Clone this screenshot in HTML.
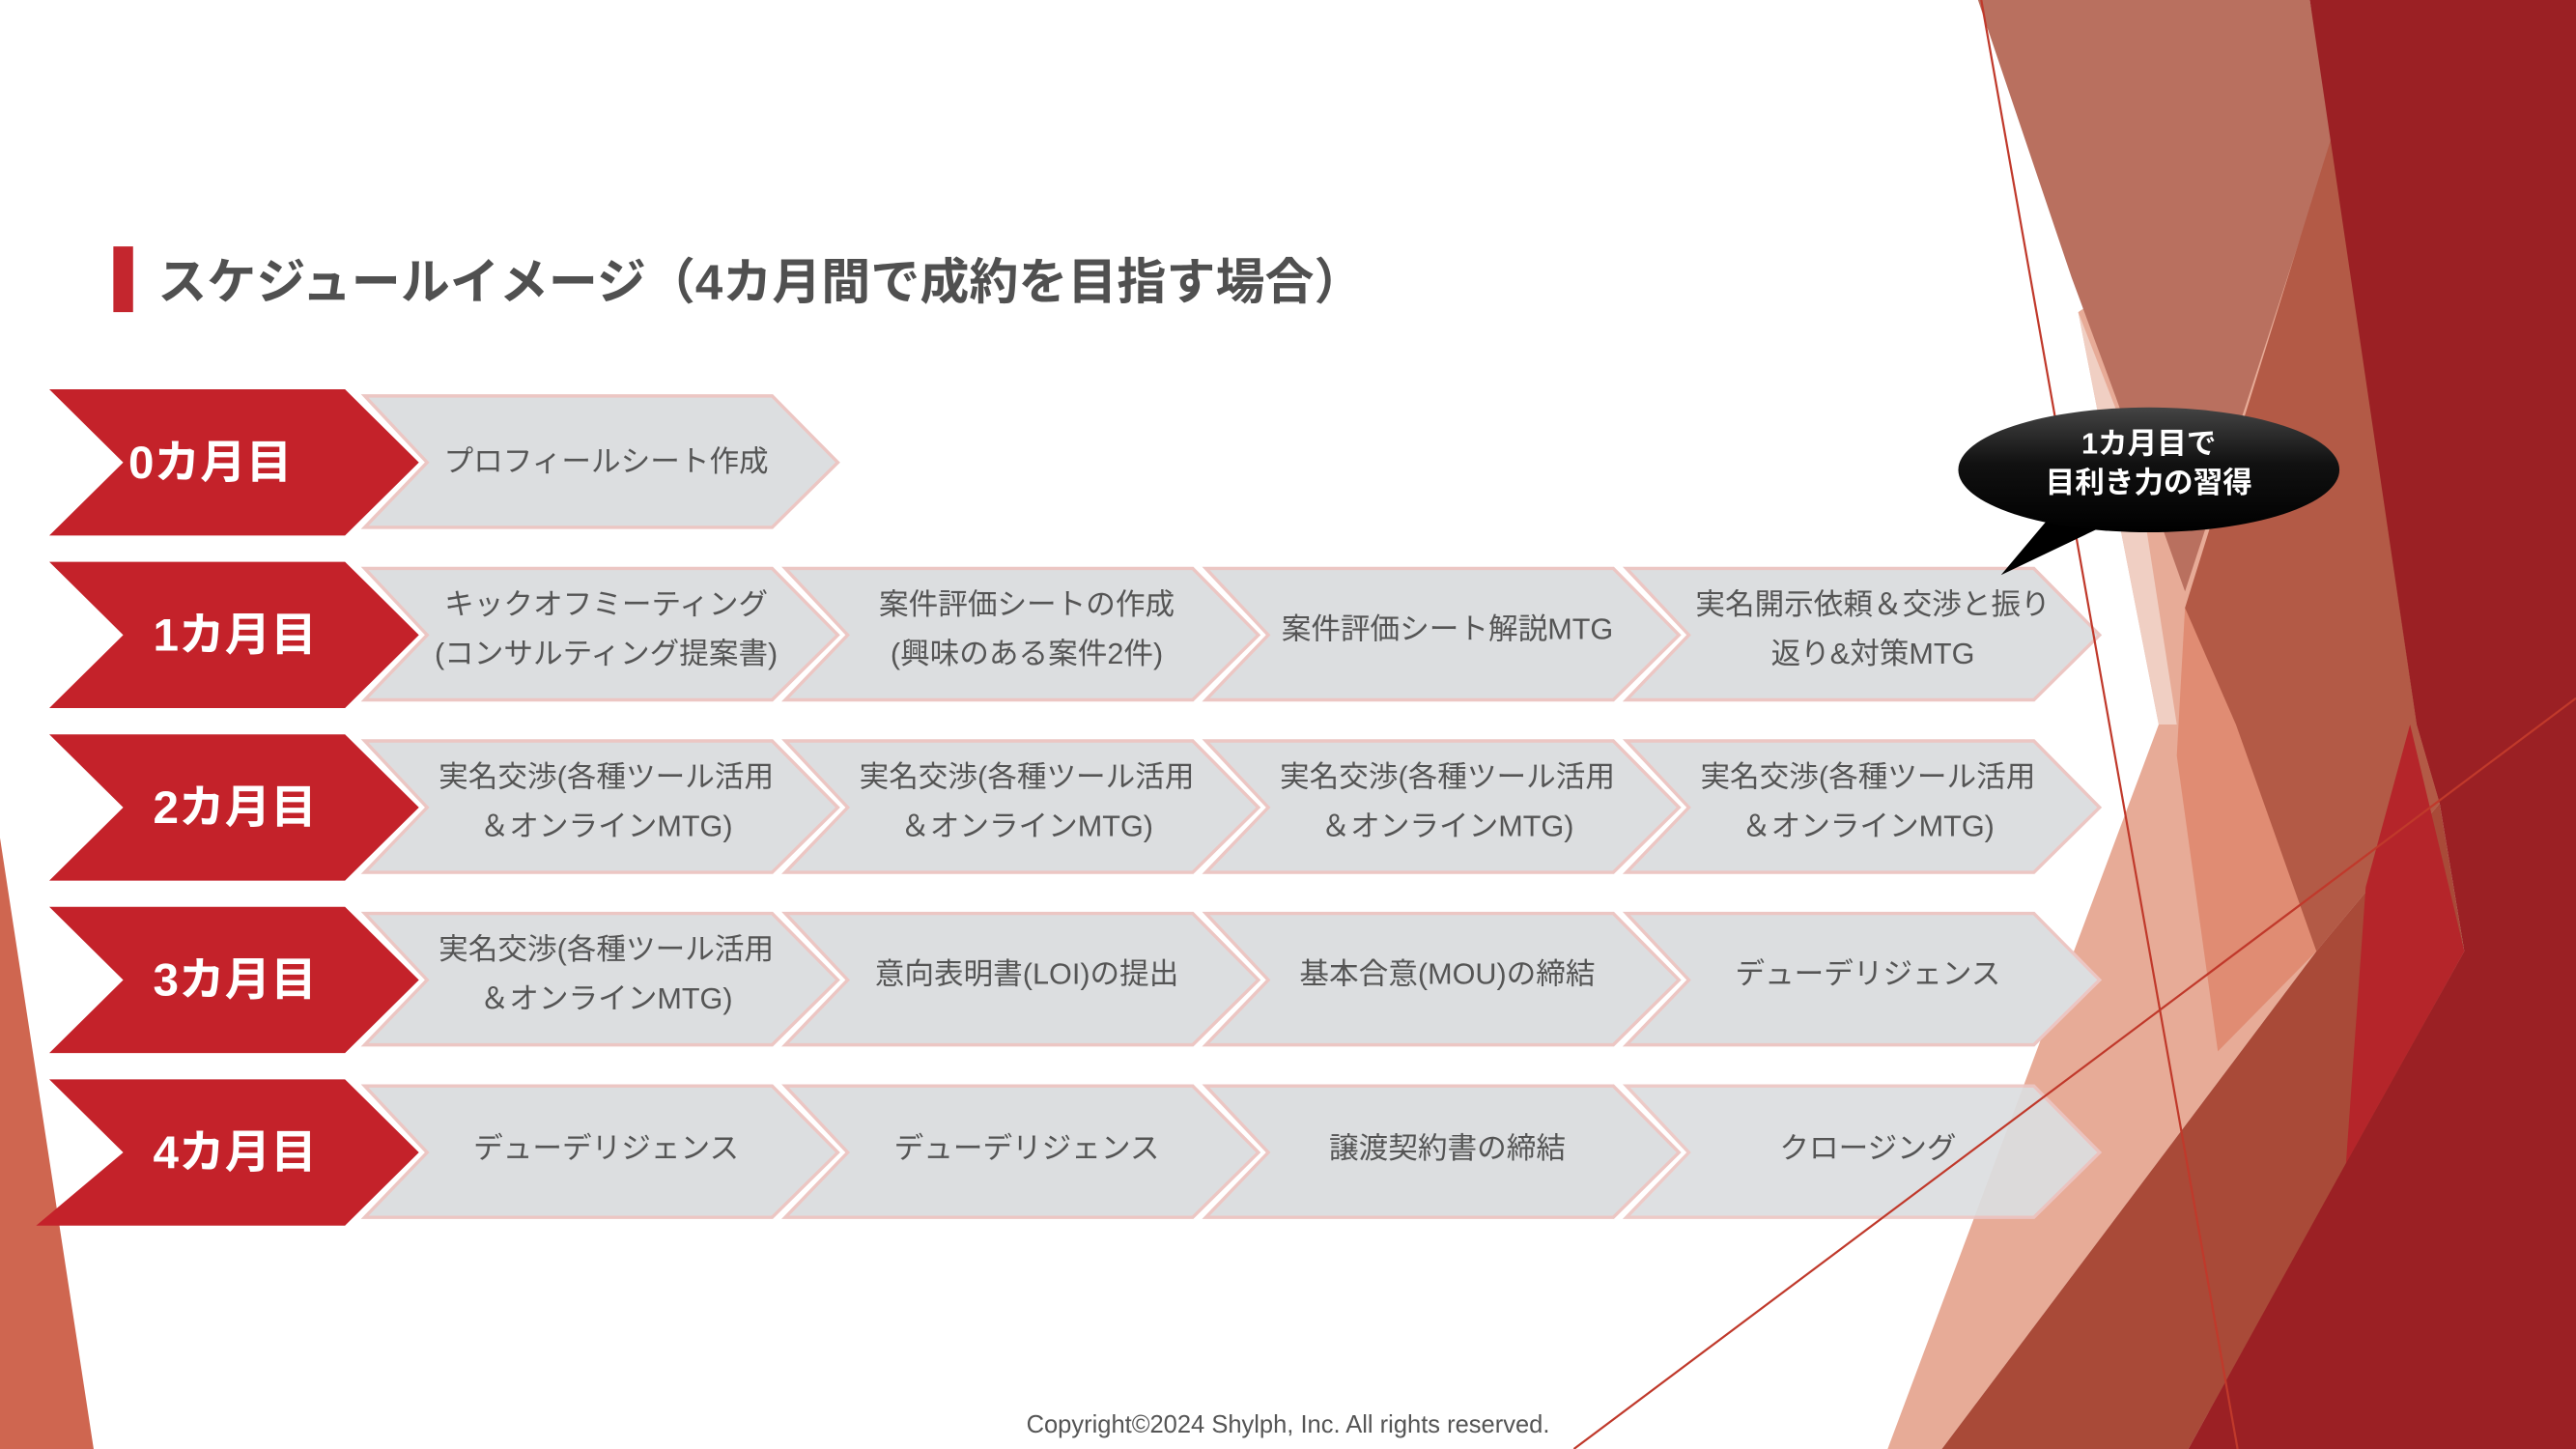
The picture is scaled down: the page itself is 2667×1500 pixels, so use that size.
<!DOCTYPE html>
<html><head><meta charset="utf-8"><style>
html,body{margin:0;padding:0;background:#fff;}
svg{display:block;}
text{font-family:"Liberation Sans","Noto Sans CJK JP",sans-serif;}
</style></head><body>
<svg width="2667" height="1500" viewBox="0 0 1568 882" preserveAspectRatio="none" xmlns="http://www.w3.org/2000/svg">
<defs>
<linearGradient id="bub" x1="0" y1="0" x2="0" y2="1">
<stop offset="0" stop-color="#444"/><stop offset="0.45" stop-color="#111"/><stop offset="1" stop-color="#000"/>
</linearGradient>
</defs>
<rect width="1568" height="882" fill="#fff"/>
<!-- background right -->
<polygon points="1265,190 1420,84 1485,489 1410,579 1182,882 1149,882 1314,441" fill="#e7ab97"/>
<polygon points="1265,190 1300,280 1325,441 1314,441" fill="#f0cfc3"/>
<polygon points="1204,0 1406,0 1420,84 1330,360 1288,242 1261,169" fill="#b9705f"/>
<polygon points="1419,84 1471,441 1485,489 1410,579 1350,540 1330,370" fill="#b35a46"/>
<polygon points="1330,370 1361,441 1410,579 1350,640 1325,460" fill="#e08c73"/>
<polygon points="1182,882 1410,579 1485,489 1500,579 1332,882" fill="#a94a38"/>
<polygon points="1406,0 1568,0 1568,882 1332,882 1428,708 1500,579 1485,489 1471,441" fill="#9b2024"/>
<polygon points="1467,441 1500,579 1428,708 1440,540" fill="#b5252a"/>
<!-- left salmon -->
<polygon points="0,510 57,882 0,882" fill="#cf6650"/>
<!-- title -->
<rect x="69" y="150" width="12" height="40" fill="#c4262e"/>
<text x="96" y="182" font-size="30" font-weight="bold" fill="#505050">スケジュールイメージ（4カ月間で成約を目指す場合）</text>
<!-- row 0 -->
<polygon points="30,237 210,237 255,281.5 210,326 30,326 75,281.5" fill="#c4222a"/>
<text x="128" y="291" font-size="28" font-weight="bold" fill="#fff" text-anchor="middle">0カ月目</text>
<polygon points="222,241 470,241 510,281.5 470,321 222,321 260,281.5" fill="#dcdee0" stroke="#ecc6c3" stroke-width="2"/>
<text x="369" y="287" font-size="18" fill="#555" text-anchor="middle">プロフィールシート作成</text>
<!-- row 1 -->
<polygon points="30,342 210,342 255,386.5 210,431 30,431 75,386.5" fill="#c4222a"/>
<text x="143" y="396" font-size="28" font-weight="bold" fill="#fff" text-anchor="middle">1カ月目</text>
<polygon points="222,346 470,346 510,386.5 470,426 222,426 260,386.5" fill="#dcdee0" stroke="#ecc6c3" stroke-width="2"/>
<polygon points="478,346 726,346 766,386.5 726,426 478,426 516,386.5" fill="#dcdee0" stroke="#ecc6c3" stroke-width="2"/>
<polygon points="734,346 982,346 1022,386.5 982,426 734,426 772,386.5" fill="#dcdee0" stroke="#ecc6c3" stroke-width="2"/>
<polygon points="990,346 1238,346 1278,386.5 1238,426 990,426 1028,386.5" fill="#dcdee0" stroke="#ecc6c3" stroke-width="2"/>
<text x="369" y="374" font-size="18" fill="#555" text-anchor="middle">キックオフミーティング</text>
<text x="369" y="404" font-size="18" fill="#555" text-anchor="middle">(コンサルティング提案書)</text>
<text x="625" y="374" font-size="18" fill="#555" text-anchor="middle">案件評価シートの作成</text>
<text x="625" y="404" font-size="18" fill="#555" text-anchor="middle">(興味のある案件2件)</text>
<text x="881" y="389" font-size="18" fill="#555" text-anchor="middle">案件評価シート解説MTG</text>
<text x="1140" y="374" font-size="18" fill="#555" text-anchor="middle">実名開示依頼＆交渉と振り</text>
<text x="1140" y="404" font-size="18" fill="#555" text-anchor="middle">返り&amp;対策MTG</text>
<!-- row 2 -->
<polygon points="30,447 210,447 255,491.5 210,536 30,536 75,491.5" fill="#c4222a"/>
<text x="143" y="501" font-size="28" font-weight="bold" fill="#fff" text-anchor="middle">2カ月目</text>
<polygon points="222,451 470,451 510,491.5 470,531 222,531 260,491.5" fill="#dcdee0" stroke="#ecc6c3" stroke-width="2"/>
<polygon points="478,451 726,451 766,491.5 726,531 478,531 516,491.5" fill="#dcdee0" stroke="#ecc6c3" stroke-width="2"/>
<polygon points="734,451 982,451 1022,491.5 982,531 734,531 772,491.5" fill="#dcdee0" stroke="#ecc6c3" stroke-width="2"/>
<polygon points="990,451 1238,451 1278,491.5 1238,531 990,531 1028,491.5" fill="#dcdee0" stroke="#ecc6c3" stroke-width="2"/>
<text x="369" y="479" font-size="18" fill="#555" text-anchor="middle">実名交渉(各種ツール活用</text>
<text x="369" y="509" font-size="18" fill="#555" text-anchor="middle">＆オンラインMTG)</text>
<text x="625" y="479" font-size="18" fill="#555" text-anchor="middle">実名交渉(各種ツール活用</text>
<text x="625" y="509" font-size="18" fill="#555" text-anchor="middle">＆オンラインMTG)</text>
<text x="881" y="479" font-size="18" fill="#555" text-anchor="middle">実名交渉(各種ツール活用</text>
<text x="881" y="509" font-size="18" fill="#555" text-anchor="middle">＆オンラインMTG)</text>
<text x="1137" y="479" font-size="18" fill="#555" text-anchor="middle">実名交渉(各種ツール活用</text>
<text x="1137" y="509" font-size="18" fill="#555" text-anchor="middle">＆オンラインMTG)</text>
<!-- row 3 -->
<polygon points="30,552 210,552 255,596.5 210,641 30,641 75,596.5" fill="#c4222a"/>
<text x="143" y="606" font-size="28" font-weight="bold" fill="#fff" text-anchor="middle">3カ月目</text>
<polygon points="222,556 470,556 510,596.5 470,636 222,636 260,596.5" fill="#dcdee0" stroke="#ecc6c3" stroke-width="2"/>
<polygon points="478,556 726,556 766,596.5 726,636 478,636 516,596.5" fill="#dcdee0" stroke="#ecc6c3" stroke-width="2"/>
<polygon points="734,556 982,556 1022,596.5 982,636 734,636 772,596.5" fill="#dcdee0" stroke="#ecc6c3" stroke-width="2"/>
<polygon points="990,556 1238,556 1278,596.5 1238,636 990,636 1028,596.5" fill="#dcdee0" stroke="#ecc6c3" stroke-width="2"/>
<text x="369" y="584" font-size="18" fill="#555" text-anchor="middle">実名交渉(各種ツール活用</text>
<text x="369" y="614" font-size="18" fill="#555" text-anchor="middle">＆オンラインMTG)</text>
<text x="625" y="599" font-size="18" fill="#555" text-anchor="middle">意向表明書(LOI)の提出</text>
<text x="881" y="599" font-size="18" fill="#555" text-anchor="middle">基本合意(MOU)の締結</text>
<text x="1137" y="599" font-size="18" fill="#555" text-anchor="middle">デューデリジェンス</text>
<!-- row 4 -->
<polygon points="30,657 210,657 255,701.5 210,746 22,746 75,701.5" fill="#c4222a"/>
<text x="143" y="711" font-size="28" font-weight="bold" fill="#fff" text-anchor="middle">4カ月目</text>
<polygon points="222,661 470,661 510,701.5 470,741 222,741 260,701.5" fill="#dcdee0" stroke="#ecc6c3" stroke-width="2"/>
<polygon points="478,661 726,661 766,701.5 726,741 478,741 516,701.5" fill="#dcdee0" stroke="#ecc6c3" stroke-width="2"/>
<polygon points="734,661 982,661 1022,701.5 982,741 734,741 772,701.5" fill="#dcdee0" stroke="#ecc6c3" stroke-width="2"/>
<polygon points="990,661 1238,661 1278,701.5 1238,741 990,741 1028,701.5" fill="#dcdee0" stroke="#ecc6c3" stroke-width="2" opacity="0.92"/>
<text x="369" y="705" font-size="18" fill="#555" text-anchor="middle">デューデリジェンス</text>
<text x="625" y="705" font-size="18" fill="#555" text-anchor="middle">デューデリジェンス</text>
<text x="881" y="705" font-size="18" fill="#555" text-anchor="middle">譲渡契約書の締結</text>
<text x="1137" y="705" font-size="18" fill="#555" text-anchor="middle">クロージング</text>
<!-- thin lines -->
<line x1="1206" y1="0" x2="1362" y2="882" stroke="#c0392b" stroke-width="1.3"/>
<line x1="958" y1="882" x2="1568" y2="425" stroke="#c0392b" stroke-width="1.3"/>
<!-- bubble -->
<polygon points="1218,350 1250,312 1285,318" fill="#000"/>
<ellipse cx="1308" cy="286" rx="116" ry="38" fill="url(#bub)"/>
<text x="1308" y="276" font-size="18" font-weight="bold" fill="#fff" text-anchor="middle">1カ月目で</text>
<text x="1308" y="300" font-size="18" font-weight="bold" fill="#fff" text-anchor="middle">目利き力の習得</text>
<!-- footer -->
<text x="784" y="872" font-size="15" fill="#555" text-anchor="middle">Copyright©2024 Shylph, Inc. All rights reserved.</text>
</svg>
</body></html>
